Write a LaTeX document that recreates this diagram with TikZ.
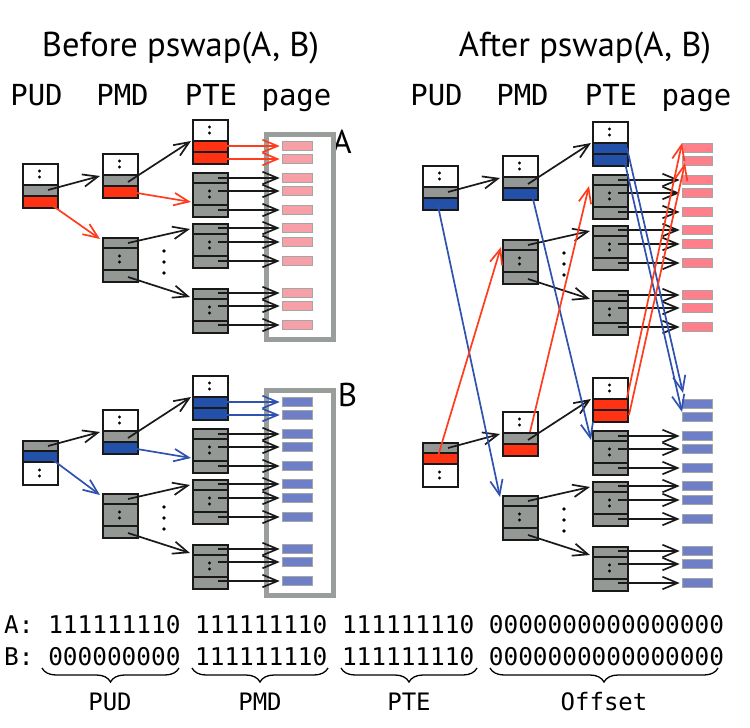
\documentclass[tikz,border=0pt]{standalone}
\usepackage{fontspec}
\setmainfont{PT Sans}
\newfontfamily\codefont{DejaVu Sans Mono}
\usetikzlibrary{arrows.meta,decorations.pathreplacing,calc}
\definecolor{entrygray}{HTML}{939895}
\definecolor{entryred}{HTML}{FF3314}
\definecolor{entryblue}{HTML}{2350A8}
\definecolor{pinkL}{HTML}{F8A0A8}
\definecolor{pinkR}{HTML}{FF7F8A}
\definecolor{bluepg}{HTML}{6E7FC8}
\definecolor{framegray}{HTML}{9A9E9A}
\definecolor{pgborder}{HTML}{A3A7A3}
\definecolor{arrred}{HTML}{FF3C1E}
\definecolor{arrblue}{HTML}{2F52B0}
\tikzset{
  lnk/.style={line width=1.7pt, -{Straight Barb[length=15pt,width=12.5pt]}},
  blk/.style={lnk, draw=black!90},
  redl/.style={lnk, draw=arrred},
  bluel/.style={lnk, draw=arrblue},
  pgarr/.style={shorten >=2pt},
  pagebox/.style={draw=pgborder, line width=1.6pt, minimum width=30pt, minimum height=9pt, inner sep=0pt},
  boxnode/.style={minimum width=35pt, minimum height=44pt, inner sep=0pt, anchor=north west},
  border/.style={line width=2.1pt, draw=black!90},
  sep/.style={line width=1.6pt, draw=black!90},
  framebox/.style={draw=framegray, line width=5pt, minimum width=67pt, minimum height=205pt, inner sep=0pt, anchor=north west},
  vdot/.style={circle, fill=black, inner sep=0pt, minimum size=3.6pt},
  ttl/.style={font=\fontsize{34.5}{38}\selectfont, anchor=base, inner sep=0pt},
  hd/.style={font=\codefont\fontsize{29}{32}\selectfont, anchor=base, inner sep=0pt},
  big/.style={font=\fontsize{33}{36}\selectfont, anchor=base, inner sep=0pt},
  bits/.style={font=\codefont\fontsize{24.4}{28}\selectfont, anchor=base west, inner sep=0pt},
  lab/.style={font=\codefont\fontsize{24}{28}\selectfont, anchor=base, inner sep=0pt},
  brc/.style={decorate, decoration={brace, mirror, amplitude=14pt}, line width=1.3pt},
}
\newcommand\twodots[2]{\fill (#1,#2-3) circle[radius=1.7pt]; \fill (#1,#2+3) circle[radius=1.7pt];}
% white part on top, then two entries
\newcommand\topwhite[5]{%
 \begin{scope}[shift={(#2,#3)}]
  \fill[white] (0,0) rectangle (35,22);
  \fill[#4] (0,22) rectangle (35,33);
  \fill[#5] (0,33) rectangle (35,44);
  \draw[sep] (0,22) -- (35,22) (0,33) -- (35,33);
  \twodots{17.5}{11}
  \node[boxnode, border] (#1) at (0,0) {};
 \end{scope}}
% two entries on top, then white part
\newcommand\botwhite[5]{%
 \begin{scope}[shift={(#2,#3)}]
  \fill[#4] (0,0) rectangle (35,11);
  \fill[#5] (0,11) rectangle (35,22);
  \fill[white] (0,22) rectangle (35,44);
  \draw[sep] (0,11) -- (35,11) (0,22) -- (35,22);
  \twodots{17.5}{33}
  \node[boxnode, border] (#1) at (0,0) {};
 \end{scope}}
% all gray table
\newcommand\graybox[3]{%
 \begin{scope}[shift={(#2,#3)}]
  \fill[entrygray] (0,0) rectangle (35,44);
  \draw[sep] (0,11) -- (35,11) (0,33) -- (35,33);
  \twodots{17.5}{22}
  \node[boxnode, border] (#1) at (0,0) {};
 \end{scope}}
% boxes of one tree: prefix, dx, dy, entry colour, page colour, frame
\newcommand\treeboxes[6]{%
 \begin{scope}[shift={(#2,#3)}]
  \ifnum#6=1 \node[framebox] (#1frame) at (263.5,131.5) {};\fi
  \topwhite{#1pmdA}{102}{153}{entrygray}{#4}
  \graybox{#1pmdB}{102}{237}
  \topwhite{#1pteA}{192}{119}{#4}{#4}
  \graybox{#1pteB}{192}{172}
  \graybox{#1pteC}{192}{223}
  \graybox{#1pteD}{192}{288}
  \foreach \i/\yy in {1/146,2/159,3/178,4/191,5/210,6/228,7/242,8/261,9/293,10/306,11/325}
   {\node[pagebox, fill=#5] (#1pg\i) at (297.5,\yy) {};}
  \node[vdot] (#1vA) at (164,251) {};
  \node[vdot] (#1vB) at (164,262) {};
  \node[vdot] (#1vC) at (164,273) {};
 \end{scope}}
% black arrows of one tree
\newcommand\treearrows[3]{%
 \begin{scope}[shift={(#2,#3)}]
  \coordinate (#1a1s) at (128,182); \coordinate (#1a1e) at (191,141);
  \coordinate (#1a2s) at (128,243); \coordinate (#1a2e) at (190,229);
  \coordinate (#1a3s) at (128,277); \coordinate (#1a3e) at (190,297);
  \coordinate (#1u1s) at (48,190);  \coordinate (#1u1e) at (100,176);
  \draw[blk] (#1a1s) -- (#1a1e);
  \draw[blk] (#1a2s) -- (#1a2e);
  \draw[blk] (#1a3s) -- (#1a3e);
  \draw[blk] (#1u1s) -- (#1u1e);
  \foreach \i/\yy in {3/178,4/191,5/210,6/228,7/242,8/261,9/293,10/306,11/325}
   {\coordinate (#1ps\i) at (218,\yy); \draw[blk, pgarr] (#1ps\i) -- (#1pg\i.west);}
 \end{scope}}
\begin{document}
\begin{tikzpicture}[x=1pt,y=-1pt]
\useasboundingbox (0,0) rectangle (750,728);
\fill[white] (0,0) rectangle (750,728);

% ---------- texts ----------
\node[ttl] (titleL) at (180.5,56.7) {Before pswap(A, B)};
\node[ttl] (titleR) at (585,56.7) {After pswap(A, B)};
\node[hd] (hLpud) at (36.5,105) {PUD};
\node[hd] (hLpmd) at (122.5,105) {PMD};
\node[hd] (hLpte) at (211,105) {PTE};
\node[hd] (hLpage) at (296.5,105) {page};
\node[hd] (hRpud) at (436.5,105) {PUD};
\node[hd] (hRpmd) at (522.5,105) {PMD};
\node[hd] (hRpte) at (611,105) {PTE};
\node[hd] (hRpage) at (696.5,105) {page};
\node[big] (labA) at (342,153.3) {A};
\node[big] (labB) at (347.5,406.7) {B};

% ---------- boxes ----------
\treeboxes{LU}{0}{0}{entryred}{pinkL}{1}
\treeboxes{LL}{0}{256}{entryblue}{bluepg}{1}
\treeboxes{RU}{400}{2}{entryblue}{pinkR}{0}
\treeboxes{RL}{400}{258}{entryred}{bluepg}{0}
\begin{scope}[shift={(0,0)}]\topwhite{LUpud}{22}{163}{entrygray}{entryred}\end{scope}
\begin{scope}[shift={(0,256)}]\botwhite{LLpud}{22}{184}{entrygray}{entryblue}\end{scope}
\begin{scope}[shift={(400,2)}]\topwhite{RUpud}{22}{163}{entrygray}{entryblue}\end{scope}
\begin{scope}[shift={(400,258)}]\botwhite{RLpud}{22}{184}{entrygray}{entryred}\end{scope}

% ---------- black arrows ----------
\treearrows{LU}{0}{0}
\treearrows{LL}{0}{256}
\treearrows{RU}{400}{2}
\treearrows{RL}{400}{258}

% ---------- coloured arrows, before ----------
\begin{scope}[shift={(0,0)}]
 \coordinate (LUu2s) at (53,206); \coordinate (LUu2e) at (100,239);
 \coordinate (LUc1s) at (137,193); \coordinate (LUc1e) at (191,202);
 \coordinate (LUp1s) at (227,146); \coordinate (LUp2s) at (227,159);
 \draw[redl] (LUu2s) -- (LUu2e);
 \draw[redl] (LUc1s) -- (LUc1e);
 \draw[redl, pgarr] (LUp1s) -- (LUpg1.west);
 \draw[redl, pgarr] (LUp2s) -- (LUpg2.west);
\end{scope}
\begin{scope}[shift={(0,256)}]
 \coordinate (LLu2s) at (53,204); \coordinate (LLu2e) at (100,239);
 \coordinate (LLc1s) at (137,193); \coordinate (LLc1e) at (191,202);
 \coordinate (LLp1s) at (227,146); \coordinate (LLp2s) at (227,159);
 \draw[bluel] (LLu2s) -- (LLu2e);
 \draw[bluel] (LLc1s) -- (LLc1e);
 \draw[bluel, pgarr] (LLp1s) -- (LLpg1.west);
 \draw[bluel, pgarr] (LLp2s) -- (LLpg2.west);
\end{scope}

% ---------- crossing arrows, after ----------
\coordinate (x1s) at (438,206); \coordinate (x1e) at (500,497);
\coordinate (x2s) at (438,456); \coordinate (x2e) at (501,247);
\coordinate (x3s) at (533,199); \coordinate (x3e) at (591,440);
\coordinate (x4s) at (530,432); \coordinate (x4e) at (589,186);
\coordinate (x5s) at (627,148); \coordinate (x5e) at (683,393);
\coordinate (x6s) at (625,163); \coordinate (x6e) at (682,412);
\coordinate (x7s) at (627,398); \coordinate (x7e) at (682,143);
\coordinate (x8s) at (629,415); \coordinate (x8e) at (685,163);
\draw[bluel] (x1s) -- (x1e);
\draw[redl] (x2s) -- (x2e);
\draw[bluel] (x3s) -- (x3e);
\draw[redl] (x4s) -- (x4e);
\draw[bluel] (x5s) -- (x5e);
\draw[bluel] (x6s) -- (x6e);
\draw[redl] (x7s) -- (x7e);
\draw[redl] (x8s) -- (x8e);

% ---------- addresses ----------
\node[bits] (bitsA) at (4,633.3) {A: 111111110 111111110 111111110 0000000000000000};
\node[bits] (bitsB) at (4,665) {B: 000000000 111111110 111111110 0000000000000000};
\coordinate (b1l) at (42,668);  \coordinate (b1r) at (179,668);
\coordinate (b2l) at (192,668); \coordinate (b2r) at (328,668);
\coordinate (b3l) at (341,668); \coordinate (b3r) at (477,668);
\coordinate (b4l) at (490,668); \coordinate (b4r) at (718,668);
\draw[brc] (b1l) -- (b1r);
\draw[brc] (b2l) -- (b2r);
\draw[brc] (b3l) -- (b3r);
\draw[brc] (b4l) -- (b4r);
\node[lab] (lPUD) at (110,710) {PUD};
\node[lab] (lPMD) at (260,710) {PMD};
\node[lab] (lPTE) at (409,710) {PTE};
\node[lab] (lOff) at (604,710) {Offset};
\end{tikzpicture}
\end{document}
